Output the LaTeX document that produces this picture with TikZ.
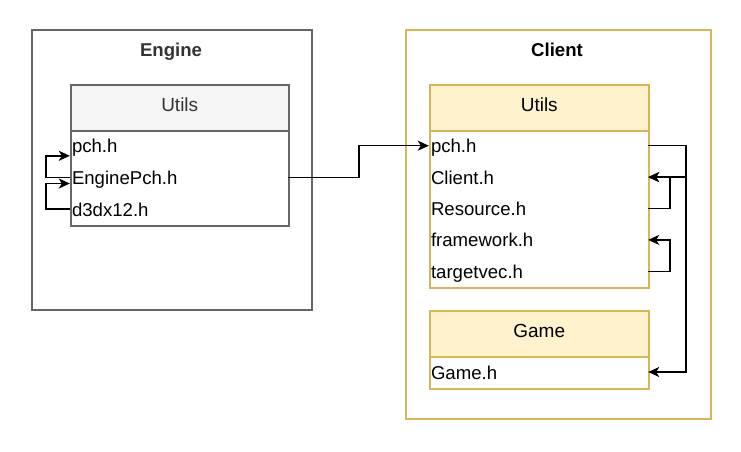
\documentclass[tikz,border=0pt]{standalone}
\usepackage{fontspec}
\setmainfont{Liberation Sans}
\usetikzlibrary{arrows.meta,calc}
\definecolor{gborder}{HTML}{666666}
\definecolor{gtext}{HTML}{333333}
\definecolor{gfill}{HTML}{F5F5F5}
\definecolor{yborder}{HTML}{D6B656}
\definecolor{yfill}{HTML}{FFF2CC}
\begin{document}
\begin{tikzpicture}[x=1pt,y=-1pt,
  font=\fontsize{18.6}{21}\selectfont,
  container/.style={draw, line width=1.5pt, anchor=north west, inner sep=0pt},
  title/.style={font=\fontsize{18.6}{21}\selectfont\bfseries, text height=13pt, text depth=0pt, inner sep=0pt},
  header/.style={draw, line width=1.5pt, anchor=north west, inner sep=0pt, minimum height=46pt,
    font=\fontsize{19}{21}\selectfont, text height=13pt, text depth=5.6pt},
  tbody/.style={draw, line width=1.5pt, anchor=north west, inner sep=0pt, fill=white},
  rowitem/.style={inner xsep=2pt, inner ysep=0pt, minimum height=31pt, align=left, text height=18pt, text depth=4pt},
  conn/.style={draw, line width=1.5pt, -{Stealth[length=11pt,width=10pt,inset=3pt]}},
]
\useasboundingbox (0,0) rectangle (741,451);
% Engine
\node[container, draw=gborder, minimum width=280pt, minimum height=280pt] (engine) at (31,29) {};
\node[title, text=gtext] (enginetitle) at (171,50) {Engine};
\node[header, draw=gborder, fill=gfill, text=gtext, minimum width=218pt] (eutils) at (70,84) {Utils};
\node[tbody, draw=gborder, minimum width=218pt, minimum height=95pt] (ebody) at (70,130) {};
\node[rowitem, text width=214pt] (epch) at (179,145.8) {pch.h};
\node[rowitem, text width=214pt] (eeng) at (179,177.5) {EnginePch.h};
\node[rowitem, text width=214pt] (ed3d) at (179,209.2) {d3dx12.h};
% Client
\node[container, draw=yborder, minimum width=305pt, minimum height=389pt] (client) at (405,29) {};
\node[title] (clienttitle) at (557,50) {Client};
\node[header, draw=yborder, fill=yfill, minimum width=219pt] (cutils) at (429,84) {Utils};
\node[tbody, draw=yborder, minimum width=219pt, minimum height=157pt] (cbody) at (429,130) {};
\node[rowitem, text width=215pt] (cpch) at (538.5,145.7) {pch.h};
\node[rowitem, text width=215pt] (cclient) at (538.5,177.1) {Client.h};
\node[rowitem, text width=215pt] (cres) at (538.5,208.5) {Resource.h};
\node[rowitem, text width=215pt] (cframe) at (538.5,239.9) {framework.h};
\node[rowitem, text width=215pt] (ctarget) at (538.5,271.3) {targetvec.h};
\node[header, draw=yborder, fill=yfill, minimum width=219pt] (cgamehead) at (429,310) {Game};
\node[tbody, draw=yborder, minimum width=219pt, minimum height=32pt] (cgamebody) at (429,356) {};
\node[rowitem, text width=215pt] (cgame) at (538.5,372) {Game.h};
% connectors
\draw[conn] (eeng.east) -- ++(71,0) |- (cpch.west);
\draw[conn] (eeng.west) -- ++(-24,0) |- ($(epch.west)+(0,10)$);
\draw[conn] (ed3d.west) -- ++(-24,0) |- ($(eeng.west)+(0,6)$);
\draw[conn] (cpch.east) -- ++(38,0) |- (cclient.east);
\draw[conn] (cpch.east) -- ++(38,0) |- (cgame.east);
\draw[conn] (cres.east) -- ++(22,0) |- (cclient.east);
\draw[conn] (ctarget.east) -- ++(22,0) |- (cframe.east);
\end{tikzpicture}
\end{document}
